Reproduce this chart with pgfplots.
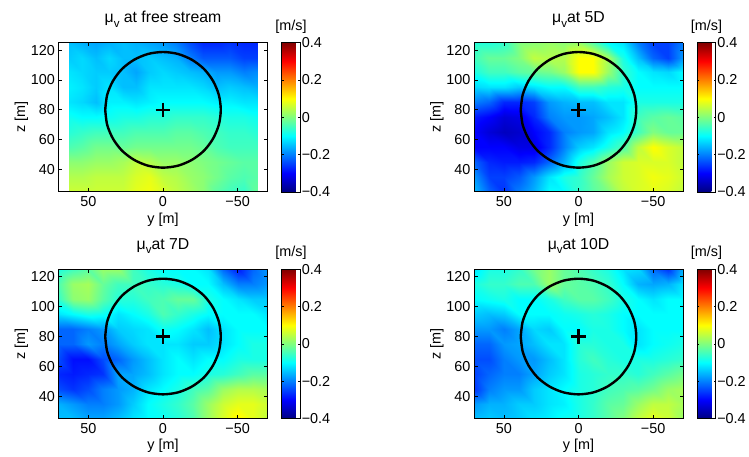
\documentclass[border=0pt]{standalone}
\usepackage{fontspec}
\setmainfont{Liberation Sans}
\usepackage{pgfplots}
\pgfplotsset{compat=1.18}
\newcommand{\tfs}{\fontsize{14.4}{16}\selectfont}
\newcommand{\ttl}{\fontsize{15.8}{18}\selectfont}
\newcommand{\muv}{μ\raisebox{-4.5pt}{\fontsize{11.5}{12}\selectfont v}}
\pgfplotsset{
  pan/.style={
    scale only axis, width=209pt, height=149.4pt,
    view={0}{90}, x dir=reverse,
    xmin=-70, xmax=70, ymin=25, ymax=125, zmin=-1, zmax=1,
    xtick={50,0,-50}, xticklabels={50,0,−50},
    ytick={40,60,80,100,120}, yticklabels={40,60,80,100,120}, ztick=\empty,
    tick align=inside, tick pos=both, major tick length=3.5pt,
    yticklabel pos=upper,
    tick style={black, line width=0.7pt},
    axis line style={black, line width=1pt},
    axis on top,
    tick label style={font=\tfs},
    xticklabel style={yshift=-1pt},
    label style={font=\tfs},
    xlabel={y [m]}, ylabel={z [m]},
    xlabel style={yshift=1pt},
    ylabel shift=-4pt,
    title style={font=\ttl, yshift=6pt},
    colormap/jet, point meta min=-0.4, point meta max=0.4,
    colorbar,
    colorbar style={
      at={(1.068,1)}, anchor=north west,
      scale only axis, width=18.5pt, height=149.4pt,
      ymin=-0.4, ymax=0.4,
      ytick={-0.4,-0.2,0,0.2,0.4},
      yticklabels={−0.4,−0.2,0,0.2,0.4},
      yticklabel pos=right,
      tick align=inside, major tick length=2pt,
      tick label style={font=\tfs},
      yticklabel style={xshift=-2pt},
      axis line style={black, line width=0.8pt},
      title={[m/s]}, title style={font=\tfs, yshift=0pt},
    },
  },
  hm/.style={surf, shader=interp, mesh/cols=15},
  ring/.style={black, line width=2.4pt, smooth},
  cross/.style={black, only marks, mark=+, mark size=7.3pt, mark options={line width=2.4pt}},
}
\newcommand{\ringplot}{
  \addplot3[ring] coordinates {(38.7,80,0)(37.4,90,0)(33.5,99.35,0)(27.4,107.4,0)(19.35,113.5,0)(10,117.4,0)(0,118.7,0)(-10,117.4,0)(-19.35,113.5,0)(-27.4,107.4,0)(-33.5,99.35,0)(-37.4,90,0)(-38.7,80,0)(-37.4,70,0)(-33.5,60.65,0)(-27.4,52.6,0)(-19.35,46.5,0)(-10,42.6,0)(0,41.3,0)(10,42.6,0)(19.35,46.5,0)(27.4,52.6,0)(33.5,60.65,0)(37.4,70,0)(38.7,80,0)};
  \addplot3[cross] coordinates {(0,80,0)};
}
\begin{document}
\begin{tikzpicture}[x=1pt,y=1pt]
\path[use as bounding box] (0,0) rectangle (749,457);
\begin{axis}[pan, at={(58.5pt,265pt)}, anchor=south west, title={\muv{} at free stream}]
\addplot3[hm] coordinates {
(63,125,-.15)(54,125,-.16)(45,125,-.17)(36,125,-.16)(27,125,-.15)(18,125,-.16)(9,125,-.17)(0,125,-.18)(-9,125,-.20)(-18,125,-.24)(-27,125,-.27)(-36,125,-.27)(-45,125,-.26)(-54,125,-.27)(-63,125,-.27)
(63,115,-.14)(54,115,-.13)(45,115,-.15)(36,115,-.13)(27,115,-.15)(18,115,-.15)(9,115,-.14)(0,115,-.15)(-9,115,-.16)(-18,115,-.20)(-27,115,-.23)(-36,115,-.23)(-45,115,-.23)(-54,115,-.25)(-63,115,-.25)
(63,105,-.12)(54,105,-.13)(45,105,-.14)(36,105,-.14)(27,105,-.15)(18,105,-.17)(9,105,-.14)(0,105,-.13)(-9,105,-.14)(-18,105,-.15)(-27,105,-.16)(-36,105,-.18)(-45,105,-.18)(-54,105,-.20)(-63,105,-.19)
(63,95,-.11)(54,95,-.12)(45,95,-.14)(36,95,-.12)(27,95,-.15)(18,95,-.15)(9,95,-.12)(0,95,-.12)(-9,95,-.12)(-18,95,-.12)(-27,95,-.13)(-36,95,-.15)(-45,95,-.14)(-54,95,-.15)(-63,95,-.16)
(63,85,-.12)(54,85,-.13)(45,85,-.15)(36,85,-.11)(27,85,-.11)(18,85,-.12)(9,85,-.11)(0,85,-.10)(-9,85,-.10)(-18,85,-.10)(-27,85,-.10)(-36,85,-.11)(-45,85,-.11)(-54,85,-.12)(-63,85,-.12)
(63,75,-.09)(54,75,-.10)(45,75,-.10)(36,75,-.09)(27,75,-.08)(18,75,-.08)(9,75,-.07)(0,75,-.07)(-9,75,-.06)(-18,75,-.06)(-27,75,-.06)(-36,75,-.07)(-45,75,-.08)(-54,75,-.08)(-63,75,-.09)
(63,65,-.07)(54,65,-.06)(45,65,-.05)(36,65,-.05)(27,65,-.05)(18,65,-.04)(9,65,-.04)(0,65,-.04)(-9,65,-.03)(-18,65,-.03)(-27,65,-.04)(-36,65,-.05)(-45,65,-.06)(-54,65,-.06)(-63,65,-.07)
(63,55,-.04)(54,55,-.03)(45,55,-.01)(36,55,-.01)(27,55,-.02)(18,55,-.01)(9,55,-.01)(0,55,-.01)(-9,55,-.01)(-18,55,-.01)(-27,55,-.02)(-36,55,-.04)(-45,55,-.05)(-54,55,-.05)(-63,55,-.05)
(63,45,.01)(54,45,.01)(45,45,.02)(36,45,.02)(27,45,.03)(18,45,.05)(9,45,.04)(0,45,.02)(-9,45,.02)(-18,45,.01)(-27,45,0)(-36,45,-.01)(-45,45,-.02)(-54,45,-.03)(-63,45,-.03)
(63,35,.04)(54,35,.04)(45,35,.05)(36,35,.05)(27,35,.05)(18,35,.07)(9,35,.08)(0,35,.05)(-9,35,.04)(-18,35,.02)(-27,35,.01)(-36,35,-.01)(-45,35,-.03)(-54,35,-.04)(-63,35,-.03)
(63,25,.06)(54,25,.06)(45,25,.06)(36,25,.06)(27,25,.06)(18,25,.08)(9,25,.09)(0,25,.07)(-9,25,.05)(-18,25,.03)(-27,25,.01)(-36,25,-.03)(-45,25,-.05)(-54,25,-.06)(-63,25,-.02)
};
\ringplot
\end{axis}
\begin{axis}[pan, at={(474pt,265pt)}, anchor=south west, title={\muv{}at 5D}]
\addplot3[hm] coordinates {
(70,125,-.07)(60,125,-.07)(50,125,-.06)(40,125,0)(30,125,.01)(20,125,.02)(10,125,.01)(0,125,.02)(-10,125,-.03)(-20,125,-.10)(-30,125,-.12)(-40,125,-.20)(-50,125,-.25)(-60,125,-.25)(-70,125,-.20)
(70,115,-.05)(60,115,-.02)(50,115,-.02)(40,115,0)(30,115,.05)(20,115,.04)(10,115,.04)(0,115,.10)(-10,115,.10)(-20,115,.03)(-30,115,-.08)(-40,115,-.15)(-50,115,-.22)(-60,115,-.25)(-70,115,-.18)
(70,105,-.08)(60,105,-.05)(50,105,-.05)(40,105,-.03)(30,105,-.02)(20,105,-.01)(10,105,.02)(0,105,.10)(-10,105,.10)(-20,105,.02)(-30,105,-.06)(-40,105,-.10)(-50,105,-.12)(-60,105,-.13)(-70,105,-.10)
(70,95,-.13)(60,95,-.12)(50,95,-.12)(40,95,-.14)(30,95,-.12)(20,95,-.10)(10,95,-.10)(0,95,-.05)(-10,95,-.05)(-20,95,-.07)(-30,95,-.08)(-40,95,-.10)(-50,95,-.10)(-60,95,-.10)(-70,95,-.10)
(70,85,-.20)(60,85,-.22)(50,85,-.27)(40,85,-.27)(30,85,-.25)(20,85,-.18)(10,85,-.16)(0,85,-.15)(-10,85,-.15)(-20,85,-.12)(-30,85,-.12)(-40,85,-.08)(-50,85,-.08)(-60,85,-.08)(-70,85,-.08)
(70,75,-.28)(60,75,-.30)(50,75,-.33)(40,75,-.32)(30,75,-.27)(20,75,-.20)(10,75,-.18)(0,75,-.18)(-10,75,-.17)(-20,75,-.15)(-30,75,-.12)(-40,75,-.05)(-50,75,-.03)(-60,75,-.02)(-70,75,-.03)
(70,65,-.30)(60,65,-.33)(50,65,-.35)(40,65,-.34)(30,65,-.30)(20,65,-.27)(10,65,-.20)(0,65,-.18)(-10,65,-.17)(-20,65,-.12)(-30,65,-.10)(-40,65,-.05)(-50,65,0)(-60,65,-.02)(-70,65,-.02)
(70,55,-.30)(60,55,-.30)(50,55,-.30)(40,55,-.32)(30,55,-.32)(20,55,-.27)(10,55,-.20)(0,55,-.14)(-10,55,-.12)(-20,55,-.08)(-30,55,-.04)(-40,55,.05)(-50,55,.10)(-60,55,.07)(-70,55,.05)
(70,45,-.22)(60,45,-.27)(50,45,-.28)(40,45,-.28)(30,45,-.27)(20,45,-.22)(10,45,-.16)(0,45,-.08)(-10,45,-.04)(-20,45,.02)(-30,45,.06)(-40,45,.07)(-50,45,.07)(-60,45,.07)(-70,45,.05)
(70,35,-.18)(60,35,-.25)(50,35,-.25)(40,35,-.23)(30,35,-.18)(20,35,-.12)(10,35,-.08)(0,35,-.06)(-10,35,-.02)(-20,35,.03)(-30,35,.06)(-40,35,.07)(-50,35,.09)(-60,35,.08)(-70,35,.06)
(70,25,-.15)(60,25,-.22)(50,25,-.26)(40,25,-.20)(30,25,-.16)(20,25,-.10)(10,25,-.10)(0,25,-.06)(-10,25,-.03)(-20,25,0)(-30,25,.05)(-40,25,.07)(-50,25,.08)(-60,25,.07)(-70,25,.05)
};
\ringplot
\end{axis}
\begin{axis}[pan, at={(58.5pt,38.3pt)}, anchor=south west, title={\muv{}at 7D}]
\addplot3[hm] coordinates {
(70,125,-.08)(60,125,-.05)(50,125,-.03)(40,125,.02)(30,125,.02)(20,125,-.05)(10,125,-.08)(0,125,-.10)(-10,125,-.10)(-20,125,-.10)(-30,125,-.12)(-40,125,-.22)(-50,125,-.28)(-60,125,-.22)(-70,125,-.18)
(70,115,-.04)(60,115,.02)(50,115,.03)(40,115,-.02)(30,115,-.05)(20,115,-.05)(10,115,-.06)(0,115,-.07)(-10,115,-.08)(-20,115,-.10)(-30,115,-.10)(-40,115,-.15)(-50,115,-.20)(-60,115,-.20)(-70,115,-.18)
(70,105,-.06)(60,105,.01)(50,105,.02)(40,105,-.03)(30,105,-.07)(20,105,-.07)(10,105,-.05)(0,105,-.04)(-10,105,-.02)(-20,105,-.02)(-30,105,-.08)(-40,105,-.10)(-50,105,-.12)(-60,105,-.14)(-70,105,-.14)
(70,95,-.12)(60,95,-.10)(50,95,-.08)(40,95,-.09)(30,95,-.12)(20,95,-.10)(10,95,-.08)(0,95,-.04)(-10,95,-.06)(-20,95,-.08)(-30,95,-.10)(-40,95,-.10)(-50,95,-.10)(-60,95,-.10)(-70,95,-.12)
(70,85,-.22)(60,85,-.22)(50,85,-.20)(40,85,-.18)(30,85,-.14)(20,85,-.13)(10,85,-.12)(0,85,-.09)(-10,85,-.10)(-20,85,-.12)(-30,85,-.15)(-40,85,-.12)(-50,85,-.10)(-60,85,-.10)(-70,85,-.10)
(70,75,-.22)(60,75,-.22)(50,75,-.18)(40,75,-.20)(30,75,-.17)(20,75,-.14)(10,75,-.12)(0,75,-.12)(-10,75,-.12)(-20,75,-.14)(-30,75,-.14)(-40,75,-.12)(-50,75,-.10)(-60,75,-.08)(-70,75,-.08)
(70,65,-.24)(60,65,-.29)(50,65,-.29)(40,65,-.24)(30,65,-.22)(20,65,-.18)(10,65,-.15)(0,65,-.12)(-10,65,-.10)(-20,65,-.12)(-30,65,-.10)(-40,65,-.10)(-50,65,-.08)(-60,65,-.08)(-70,65,-.08)
(70,55,-.27)(60,55,-.28)(50,55,-.27)(40,55,-.26)(30,55,-.17)(20,55,-.17)(10,55,-.15)(0,55,-.12)(-10,55,-.10)(-20,55,-.10)(-30,55,-.08)(-40,55,-.07)(-50,55,-.05)(-60,55,-.03)(-70,55,-.03)
(70,45,-.24)(60,45,-.26)(50,45,-.24)(40,45,-.20)(30,45,-.18)(20,45,-.16)(10,45,-.12)(0,45,-.10)(-10,45,-.08)(-20,45,-.05)(-30,45,-.03)(-40,45,.02)(-50,45,.04)(-60,45,.04)(-70,45,.03)
(70,35,-.16)(60,35,-.18)(50,35,-.20)(40,35,-.20)(30,35,-.18)(20,35,-.14)(10,35,-.10)(0,35,-.08)(-10,35,-.06)(-20,35,-.03)(-30,35,.02)(-40,35,.06)(-50,35,.08)(-60,35,.08)(-70,35,.06)
(70,25,-.15)(60,25,-.15)(50,25,-.17)(40,25,-.17)(30,25,-.15)(20,25,-.12)(10,25,-.10)(0,25,-.09)(-10,25,-.07)(-20,25,-.04)(-30,25,.02)(-40,25,.07)(-50,25,.11)(-60,25,.08)(-70,25,.05)
};
\ringplot
\end{axis}
\begin{axis}[pan, at={(474pt,38.3pt)}, anchor=south west, title={\muv{}at 10D}]
\addplot3[hm] coordinates {
(70,125,-.12)(60,125,-.08)(50,125,-.08)(40,125,-.06)(30,125,-.01)(20,125,.02)(10,125,-.02)(0,125,-.04)(-10,125,-.06)(-20,125,-.08)(-30,125,-.12)(-40,125,-.13)(-50,125,-.22)(-60,125,-.26)(-70,125,-.16)
(70,115,-.08)(60,115,-.06)(50,115,-.06)(40,115,-.04)(30,115,-.04)(20,115,.02)(10,115,-.02)(0,115,-.03)(-10,115,-.04)(-20,115,-.06)(-30,115,-.10)(-40,115,-.16)(-50,115,-.17)(-60,115,-.16)(-70,115,-.12)
(70,105,-.10)(60,105,-.09)(50,105,-.08)(40,105,-.10)(30,105,-.10)(20,105,-.08)(10,105,-.05)(0,105,-.03)(-10,105,-.03)(-20,105,-.05)(-30,105,-.08)(-40,105,-.10)(-50,105,-.12)(-60,105,-.10)(-70,105,-.10)
(70,95,-.14)(60,95,-.15)(50,95,-.14)(40,95,-.10)(30,95,-.10)(20,95,-.10)(10,95,-.09)(0,95,-.08)(-10,95,-.07)(-20,95,-.08)(-30,95,-.10)(-40,95,-.10)(-50,95,-.10)(-60,95,-.10)(-70,95,-.10)
(70,85,-.18)(60,85,-.18)(50,85,-.20)(40,85,-.17)(30,85,-.13)(20,85,-.14)(10,85,-.10)(0,85,-.10)(-10,85,-.08)(-20,85,-.08)(-30,85,-.10)(-40,85,-.12)(-50,85,-.10)(-60,85,-.10)(-70,85,-.10)
(70,75,-.22)(60,75,-.22)(50,75,-.18)(40,75,-.17)(30,75,-.15)(20,75,-.12)(10,75,-.12)(0,75,-.07)(-10,75,-.07)(-20,75,-.08)(-30,75,-.08)(-40,75,-.12)(-50,75,-.10)(-60,75,-.09)(-70,75,-.08)
(70,65,-.24)(60,65,-.24)(50,65,-.20)(40,65,-.18)(30,65,-.18)(20,65,-.15)(10,65,-.12)(0,65,-.07)(-10,65,-.05)(-20,65,-.07)(-30,65,-.08)(-40,65,-.08)(-50,65,-.08)(-60,65,-.07)(-70,65,-.06)
(70,55,-.25)(60,55,-.22)(50,55,-.20)(40,55,-.20)(30,55,-.17)(20,55,-.14)(10,55,-.12)(0,55,-.08)(-10,55,-.07)(-20,55,-.06)(-30,55,-.06)(-40,55,-.07)(-50,55,-.05)(-60,55,-.03)(-70,55,-.01)
(70,45,-.26)(60,45,-.20)(50,45,-.18)(40,45,-.18)(30,45,-.14)(20,45,-.12)(10,45,-.10)(0,45,-.08)(-10,45,-.07)(-20,45,-.05)(-30,45,-.04)(-40,45,-.03)(-50,45,-.01)(-60,45,.02)(-70,45,.03)
(70,35,-.18)(60,35,-.16)(50,35,-.16)(40,35,-.14)(30,35,-.14)(20,35,-.12)(10,35,-.11)(0,35,-.08)(-10,35,-.06)(-20,35,-.03)(-30,35,-.02)(-40,35,.02)(-50,35,.05)(-60,35,.05)(-70,35,.03)
(70,25,-.15)(60,25,-.14)(50,25,-.15)(40,25,-.14)(30,25,-.12)(20,25,-.11)(10,25,-.09)(0,25,-.08)(-10,25,-.06)(-20,25,-.03)(-30,25,0)(-40,25,.05)(-50,25,.08)(-60,25,.06)(-70,25,.02)
};
\ringplot
\end{axis}
\end{tikzpicture}
\end{document}
